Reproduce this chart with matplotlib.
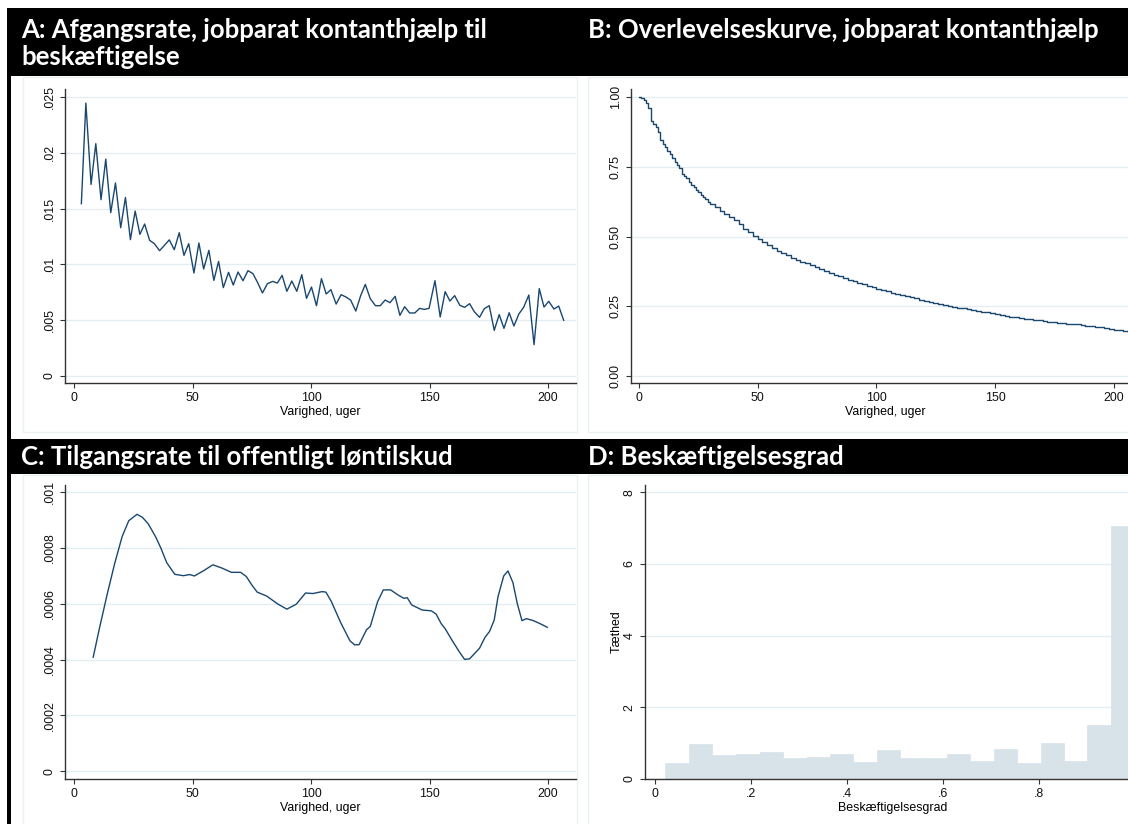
import matplotlib
matplotlib.use('Agg')
import matplotlib.pyplot as plt
from matplotlib.patches import Rectangle

plt.rcParams['font.family'] = ['Liberation Sans', 'DejaVu Sans']

# ---------------- data ----------------
title_a1 = 'A: Afgangsrate, jobparat kontanthjælp til'
title_a2 = 'beskæftigelse'
title_b = 'B: Overlevelseskurve, jobparat kontanthjælp'
title_c = 'C: Tilgangsrate til offentligt løntilskud'
title_d = 'D: Beskæftigelsesgrad'
xlabel_weeks = 'Varighed, uger'
xlabel_d = 'Beskæftigelsesgrad'
ylabel_d = 'Tæthed'

# Panel A: exit rate by duration
weeks_a = [3.1, 5.0, 7.2, 9.2, 11.4, 13.4, 15.5, 17.5, 19.7, 21.7, 23.8, 25.8, 27.8, 29.8,
           31.9, 33.9, 36.1, 38.1, 40.2, 42.3, 44.4, 46.4, 48.4, 50.6, 52.7, 54.7, 56.9,
           59.0, 61.0, 63.0, 65.2, 67.2, 69.2, 71.3, 73.4, 75.5, 77.5, 79.5, 81.6, 83.8,
           85.8, 87.8, 89.8, 91.9, 94.0, 96.1, 98.1, 100.2, 102.3, 104.4, 106.4, 108.4,
           110.6, 112.7, 114.7, 116.7, 118.9, 120.9, 122.9, 125.0, 127.2, 129.2, 131.3,
           133.3, 135.5, 137.5, 139.5, 141.6, 143.8, 145.8, 147.8, 149.8, 152.3, 154.5,
           156.6, 158.6, 160.6, 162.8, 164.8, 166.9, 168.9, 171.1, 173.1, 175.2, 177.3,
           179.4, 181.4, 183.6, 185.6, 187.7, 189.7, 191.9, 194.1, 196.3, 198.3, 200.3,
           202.5, 204.5, 206.6]
rate_a = [0.01544, 0.02446, 0.01717, 0.02082, 0.01580, 0.01944, 0.01464, 0.01730, 0.01329,
          0.01600, 0.01222, 0.01478, 0.01270, 0.01362, 0.01216, 0.01186, 0.01123, 0.01170,
          0.01220, 0.01132, 0.01284, 0.01081, 0.01186, 0.00923, 0.01192, 0.00959, 0.01126,
          0.00857, 0.01027, 0.00792, 0.00929, 0.00815, 0.00932, 0.00854, 0.00944, 0.00917,
          0.00836, 0.00744, 0.00827, 0.00848, 0.00833, 0.00902, 0.00759, 0.00851, 0.00759,
          0.00908, 0.00696, 0.00797, 0.00630, 0.00872, 0.00735, 0.00774, 0.00645, 0.00729,
          0.00708, 0.00681, 0.00582, 0.00717, 0.00821, 0.00693, 0.00630, 0.00630, 0.00681,
          0.00657, 0.00714, 0.00544, 0.00621, 0.00565, 0.00565, 0.00606, 0.00597, 0.00606,
          0.00854, 0.00529, 0.00756, 0.00672, 0.00720, 0.00633, 0.00615, 0.00648, 0.00576,
          0.00526, 0.00603, 0.00630, 0.00409, 0.00550, 0.00427, 0.00567, 0.00448, 0.00556,
          0.00615, 0.00726, 0.00281, 0.00783, 0.00618, 0.00669, 0.00600, 0.00627, 0.00499]

# Panel B: survival curve (Kaplan-Meier style step function)
weeks_b = [0, 1, 2, 3, 4, 5, 6, 7, 8, 9, 10, 11, 12, 13, 14, 15, 16, 17, 18, 19, 20, 21, 22,
           23, 24, 25, 26, 27, 28, 29, 30, 32, 34, 36, 38, 40, 42, 44, 46, 48, 50, 52, 54,
           56, 58, 60, 62, 64, 66, 68, 70, 72, 74, 76, 78, 80, 82, 84, 86, 88, 90, 92, 94,
           96, 98, 100, 102, 104, 106, 108, 110, 112, 114, 116, 118, 120, 122, 124, 126,
           128, 130, 132, 134, 136, 138, 140, 142, 144, 146, 148, 150, 152, 154, 156, 158,
           160, 162, 164, 166, 168, 170, 172, 174, 176, 178, 180, 182, 184, 186, 188, 190,
           192, 194, 196, 198, 200, 202, 204, 206, 208, 210]
surv_b = [1.000, 0.995, 0.988, 0.978, 0.962, 0.915, 0.905, 0.893, 0.875, 0.845, 0.832, 0.820,
          0.808, 0.795, 0.780, 0.768, 0.757, 0.745, 0.725, 0.717, 0.708, 0.697, 0.685, 0.676,
          0.668, 0.659, 0.650, 0.641, 0.633, 0.625, 0.618, 0.605, 0.593, 0.580, 0.569, 0.558,
          0.544, 0.528, 0.516, 0.503, 0.490, 0.479, 0.468, 0.457, 0.447, 0.440, 0.432, 0.424,
          0.417, 0.410, 0.404, 0.397, 0.390, 0.383, 0.376, 0.369, 0.363, 0.357, 0.351, 0.345,
          0.339, 0.334, 0.328, 0.323, 0.318, 0.313, 0.308, 0.304, 0.299, 0.294, 0.290, 0.286,
          0.282, 0.278, 0.274, 0.270, 0.266, 0.263, 0.259, 0.256, 0.252, 0.249, 0.245, 0.242,
          0.239, 0.236, 0.233, 0.230, 0.228, 0.225, 0.222, 0.219, 0.216, 0.213, 0.211, 0.208,
          0.205, 0.203, 0.201, 0.199, 0.197, 0.195, 0.193, 0.191, 0.189, 0.188, 0.186, 0.185,
          0.183, 0.181, 0.179, 0.177, 0.174, 0.171, 0.168, 0.166, 0.164, 0.161, 0.159, 0.157,
          0.155]

# Panel C: inflow rate to public wage subsidy
weeks_c = [8.1, 10.9, 14.1, 17.2, 20.3, 23.1, 26.6, 28.9, 31.3, 34.4, 36.7, 39.1, 42.5, 46.1,
           48.8, 50.8, 54.7, 58.6, 62.5, 66.4, 70.3, 72.7, 75.0, 77.3, 81.3, 85.9, 89.8, 93.8,
           97.7, 100.8, 104.7, 106.3, 108.6, 112.5, 116.4, 118.4, 120.3, 123.4, 125.0, 128.1,
           130.5, 133.6, 136.7, 139.1, 140.6, 142.5, 146.9, 150.8, 152.8, 155.0, 156.6, 159.4,
           162.5, 164.8, 166.9, 171.1, 173.4, 175.3, 177.3, 178.9, 181.3, 183.1, 185.2, 187.0,
           189.0, 190.9, 193.8, 196.9, 199.7]
rate_c = [0.000409, 0.000519, 0.000638, 0.000746, 0.000841, 0.000898, 0.000921, 0.000910,
          0.000887, 0.000841, 0.000799, 0.000748, 0.000706, 0.000701, 0.000705, 0.000700,
          0.000719, 0.000740, 0.000728, 0.000713, 0.000713, 0.000698, 0.000668, 0.000642,
          0.000628, 0.000600, 0.000581, 0.000599, 0.000639, 0.000637, 0.000644, 0.000642,
          0.000608, 0.000533, 0.000468, 0.000453, 0.000454, 0.000507, 0.000519, 0.000608,
          0.000650, 0.000650, 0.000632, 0.000620, 0.000622, 0.000596, 0.000578, 0.000575,
          0.000563, 0.000528, 0.000511, 0.000471, 0.000429, 0.000401, 0.000403, 0.000441,
          0.000480, 0.000501, 0.000542, 0.000626, 0.000700, 0.000718, 0.000676, 0.000602,
          0.000540, 0.000547, 0.000540, 0.000528, 0.000516]

# Panel D: histogram of employment rate
bin_edges_d = [0.021, 0.070, 0.119, 0.168, 0.217, 0.266, 0.315, 0.363, 0.412, 0.461, 0.510,
               0.559, 0.608, 0.656, 0.705, 0.754, 0.803, 0.852, 0.900, 0.949, 0.998]
density_d = [0.446, 0.985, 0.660, 0.690, 0.740, 0.576, 0.620, 0.690, 0.465, 0.800, 0.595,
             0.595, 0.690, 0.490, 0.846, 0.437, 0.994, 0.510, 1.496, 7.060]

# tick definitions
xticks_w = [0, 50, 100, 150, 200]
yticks_a = [0, 0.005, 0.01, 0.015, 0.02, 0.025]
yticklabels_a = ['0', '.005', '.01', '.015', '.02', '.025']
yticks_b = [0, 0.25, 0.5, 0.75, 1.0]
yticklabels_b = ['0.00', '0.25', '0.50', '0.75', '1.00']
yticks_c = [0, 0.0002, 0.0004, 0.0006, 0.0008, 0.001]
yticklabels_c = ['0', '.0002', '.0004', '.0006', '.0008', '.001']
xticks_d = [0, 0.2, 0.4, 0.6, 0.8]
xticklabels_d = ['0', '.2', '.4', '.6', '.8']
yticks_d = [0, 2, 4, 6, 8]

# ---------------- figure ----------------
W, H = 1128, 824
fig = plt.figure(figsize=(W / 100, H / 100), dpi=100)


def rect(l, t, r, b):
    return [l / W, 1 - b / H, (r - l) / W, (b - t) / H]


bg = fig.add_axes([0, 0, 1, 1])
bg.set_xlim(0, W)
bg.set_ylim(H, 0)
bg.axis('off')

bg.add_patch(Rectangle((7, 8), W - 7, 68, color='black', lw=0))
bg.add_patch(Rectangle((7, 439), W - 7, 35, color='black', lw=0))
bg.add_patch(Rectangle((7, 8), 4, H - 8, color='black', lw=0))
for (l, t, r, b) in [(23, 77, 577, 432), (588, 77, 1140, 432),
                     (23, 475, 577, 830), (588, 475, 1140, 830)]:
    bg.add_patch(Rectangle((l, t), r - l, b - t, fill=False, edgecolor='#EBF1F3', lw=1))

tkw = dict(color='white', fontsize=18.5, fontweight='bold', family=['Lato', 'DejaVu Sans'],
           va='baseline', ha='left')
bg.text(21, 37.5, title_a1, **tkw)
bg.text(21, 65, title_a2, **tkw)
bg.text(588, 37.5, title_b, **tkw)
bg.text(21, 465, title_c, **tkw)
bg.text(588, 465, title_d, **tkw)

LINE = '#1A476F'
GRID = '#E4EDF0'
AX = '#333333'


def style(ax, xt, xtl, yt, ytl):
    for s in ['top', 'right']:
        ax.spines[s].set_visible(False)
    for s in ['left', 'bottom']:
        ax.spines[s].set_color(AX)
        ax.spines[s].set_linewidth(1)
    ax.set_xticks(xt)
    ax.set_xticklabels(xtl)
    ax.set_yticks(yt)
    ax.set_yticklabels(ytl, rotation=90, va='center')
    ax.tick_params(length=3.6, width=0.8, color=AX, labelsize=8.9, pad=3.0,
                   labelcolor='#111111')
    ax.grid(axis='y', color=GRID, lw=1)
    ax.grid(axis='x', visible=False)
    ax.set_axisbelow(True)
    ax.patch.set_alpha(0)


# Panel A
axA = fig.add_axes(rect(65, 89, 576, 383))
axA.plot(weeks_a, rate_a, color=LINE, lw=1.0)
axA.set_xlim(-3.8, 211.8)
axA.set_ylim(-0.000627, 0.02572)
style(axA, xticks_w, [str(v) for v in xticks_w], yticks_a, yticklabels_a)
axA.set_xlabel(xlabel_weeks, fontsize=8.9, labelpad=1)

# Panel B
axB = fig.add_axes(rect(631, 89, 1140, 383))
axB.plot(weeks_b, surv_b, color=LINE, lw=1.0, drawstyle='steps-post')
axB.set_xlim(-3.37, 211.0)
axB.set_ylim(-0.0251, 1.0287)
style(axB, xticks_w, [str(v) for v in xticks_w], yticks_b, yticklabels_b)
axB.set_xlabel(xlabel_weeks, fontsize=8.9, labelpad=1)

# Panel C
axC = fig.add_axes(rect(65, 485, 576, 779))
axC.plot(weeks_c, rate_c, color=LINE, lw=1.0)
axC.set_xlim(-3.8, 211.8)
axC.set_ylim(-0.0000276, 0.001026)
style(axC, xticks_w, [str(v) for v in xticks_w], yticks_c, yticklabels_c)
axC.set_xlabel(xlabel_weeks, fontsize=8.9, labelpad=1)

# Panel D
axD = fig.add_axes(rect(645, 485, 1140, 779))
lefts = bin_edges_d[:-1]
widths = [b - a for a, b in zip(bin_edges_d[:-1], bin_edges_d[1:])]
axD.bar(lefts, density_d, width=widths, align='edge', color='#D8E3E9', edgecolor='#D8E3E9',
        lw=0.5)
axD.set_xlim(-0.0217, 1.0102)
axD.set_ylim(0, 8.2)
style(axD, xticks_d, xticklabels_d, yticks_d, [str(v) for v in yticks_d])
axD.set_xlabel(xlabel_d, fontsize=8.9, labelpad=1)
axD.set_ylabel(ylabel_d, fontsize=8.9, labelpad=1)

fig.savefig('out.png', dpi=100)
